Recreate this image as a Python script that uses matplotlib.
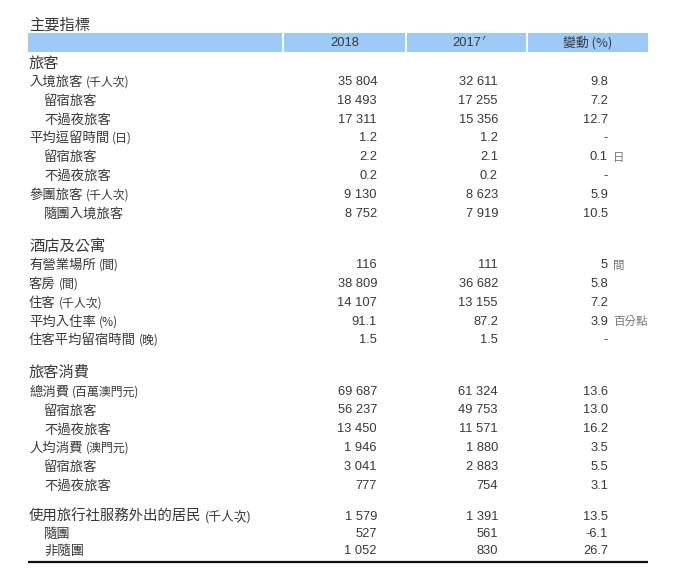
import matplotlib
matplotlib.use("Agg")
import matplotlib.pyplot as plt
from matplotlib.patches import Rectangle

# ---------------- data ----------------
title = "主要指標"
col_headers = ["2018", "2017", "變動 (%)"]

section_titles = ["旅客", "酒店及公寓", "旅客消費", None]
section_sizes = [8, 5, 6, 3]

row_labels = [
    "入境旅客", "留宿旅客", "不過夜旅客", "平均逗留時間", "留宿旅客", "不過夜旅客", "參團旅客", "隨團入境旅客",
    "有營業場所", "客房", "住客", "平均入住率", "住客平均留宿時間",
    "總消費", "留宿旅客", "不過夜旅客", "人均消費", "留宿旅客", "不過夜旅客",
    "使用旅行社服務外出的居民", "隨團", "非隨團",
]
row_units = [
    "(千人次)", "", "", "(日)", "", "", "(千人次)", "",
    "(間)", "(間)", "(千人次)", "(%)", "(晚)",
    "(百萬澳門元)", "", "", "(澳門元)", "", "",
    "(千人次)", "", "",
]
row_indent = [
    0, 1, 1, 0, 1, 1, 0, 1,
    0, 0, 0, 0, 0,
    0, 1, 1, 0, 1, 1,
    0, 1, 1,
]
values_2018 = [
    35804, 18493, 17311, 1.2, 2.2, 0.2, 9130, 8752,
    116, 38809, 14107, 91.1, 1.5,
    69687, 56237, 13450, 1946, 3041, 777,
    1579, 527, 1052,
]
values_2017 = [
    32611, 17255, 15356, 1.2, 2.1, 0.2, 8623, 7919,
    111, 36682, 13155, 87.2, 1.5,
    61324, 49753, 11571, 1880, 2883, 754,
    1391, 561, 830,
]
changes = [
    "9.8", "7.2", "12.7", "-", "0.1", "-", "5.9", "10.5",
    "5", "5.8", "7.2", "3.9", "-",
    "13.6", "13.0", "16.2", "3.5", "5.5", "3.1",
    "13.5", "-6.1", "26.7",
]
change_units = [
    "", "", "", "", "日", "", "", "",
    "間", "", "", "百分點", "",
    "", "", "", "", "", "",
    "", "", "",
]


def fmt(v):
    if isinstance(v, int):
        return f"{v:,}".replace(",", " ")
    return f"{v:.1f}"


# ---------------- layout ----------------
W, H = 697, 586
fig = plt.figure(figsize=(W / 100, H / 100), dpi=100)
ax = fig.add_axes([0, 0, 1, 1])
ax.set_xlim(0, W)
ax.set_ylim(H, 0)
ax.axis("off")

CJK = ["Noto Sans CJK TC", "DejaVu Sans"]
NUM = ["Liberation Sans", "DejaVu Sans"]
TXT = "#383838"
GREY = "#777777"

x_left = 29
x_indent = 44
x_c1, x_c2, x_c3 = 377, 498, 608
table_l, table_r = 28, 648
big_label_rows = {19}

# title
ax.text(x_left, 25, title, family=CJK, fontsize=11, color=TXT, va="center", ha="left")

# header band
band_top, band_bot = 33, 52
cells = [(table_l, 282), (284, 405), (407, 526), (528, table_r)]
for a, b in cells:
    ax.add_patch(Rectangle((a, band_top), b - a, band_bot - band_top,
                           facecolor="#9ccbf7", edgecolor="none"))
hy = (band_top + band_bot) / 2 + 0.5
ax.text((cells[1][0] + cells[1][1]) / 2, hy, col_headers[0], family=NUM,
        fontsize=9.3, color=TXT, ha="center", va="center")
t17 = ax.text((cells[2][0] + cells[2][1]) / 2, hy, col_headers[1], family=NUM,
              fontsize=9.3, color=TXT, ha="center", va="center")
ax.text((cells[3][0] + cells[3][1]) / 2, hy, col_headers[2], family=CJK,
        fontsize=9.3, color=TXT, ha="center", va="center")

fig.canvas.draw()
renderer = fig.canvas.get_renderer()
inv = ax.transData.inverted()


def right_edge(t):
    bb = t.get_window_extent(renderer)
    return inv.transform((bb.x1, bb.y1))[0]


ax.text(right_edge(t17) + 2, hy - 4, "r", family=NUM, fontsize=6,
        color=TXT, ha="left", va="center", style="italic")

# rows
section_row_h = [18.85, 18.85, 18.85, 17.2]
section_gap = [13.5, 13.5, 12.0, 0]
y = 63
i = 0
for s, (stitle, n) in enumerate(zip(section_titles, section_sizes)):
    rh = section_row_h[s]
    if stitle is not None:
        ax.text(x_left, y, stitle, family=CJK, fontsize=11, color=TXT,
                ha="left", va="center")
        y += rh
    for k in range(n):
        xl = x_indent if row_indent[i] else x_left
        big = i in big_label_rows
        lab = ax.text(xl, y, row_labels[i], family=CJK,
                      fontsize=10.4 if big else 9.6, color=TXT,
                      ha="left", va="center")
        if row_units[i]:
            ax.text(right_edge(lab) + 3, y, row_units[i], family=CJK,
                    fontsize=9.2 if big else 8.6, color=TXT, ha="left", va="center")
        ax.text(x_c1, y, fmt(values_2018[i]), family=NUM, fontsize=9.3,
                color=TXT, ha="right", va="center")
        ax.text(x_c2, y, fmt(values_2017[i]), family=NUM, fontsize=9.3,
                color=TXT, ha="right", va="center")
        ax.text(x_c3, y, changes[i], family=NUM, fontsize=9.3,
                color=TXT, ha="right", va="center")
        if change_units[i]:
            ax.text(x_c3 + 5, y, change_units[i], family=CJK, fontsize=8.3,
                    color=GREY, ha="left", va="center")
        y += rh
        i += 1
    y += section_gap[s]

# bottom rule
ax.plot([table_l, table_r], [561.5, 561.5], color="#111111", lw=1.6,
        solid_capstyle="butt")

fig.savefig("out.png", dpi=100, facecolor="white")
